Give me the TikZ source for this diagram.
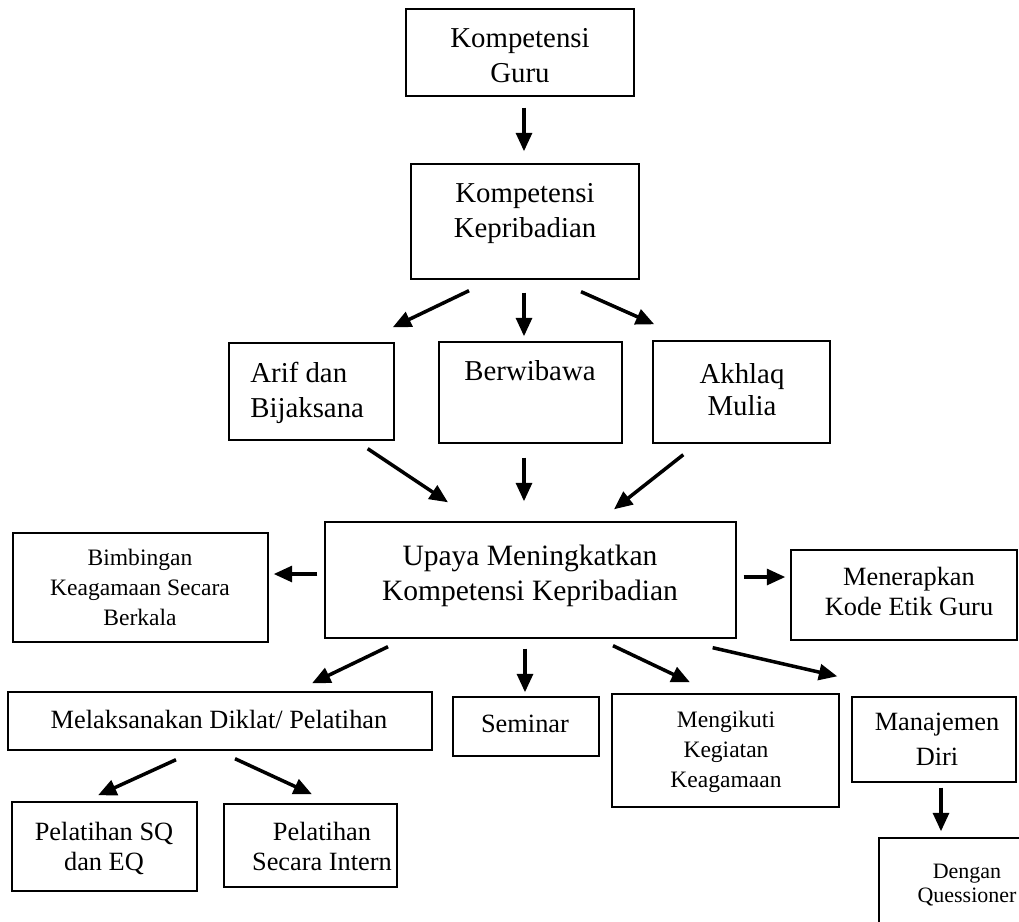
\documentclass[tikz,border=0pt]{standalone}
\usepackage{fontspec}
\setmainfont{Liberation Serif}
\usetikzlibrary{arrows.meta}

\begin{document}
\begin{tikzpicture}[x=0.02cm, y=-0.02cm,
        box/.style={draw, line width=0.8pt, inner sep=0pt},
        arr/.style={-{Triangle[length=10.5pt, width=9pt]}, line width=2pt},
        txt/.style={anchor=base, inner sep=0pt, align=center, font=\fontsize{16.4}{19.8}\selectfont},
        mid/.style={font=\fontsize{15}{17}\selectfont},
        small/.style={font=\fontsize{13.4}{17}\selectfont}]
        \useasboundingbox (0, 0) rectangle (1019, 921);

        % kotak
        \node[box, minimum width=4.56cm, minimum height=1.74cm] (guru) at (520, 52.5) {};
        \node[box, minimum width=4.56cm, minimum height=2.30cm] (kep) at (525, 221.5) {};
        \node[box, minimum width=3.30cm, minimum height=1.94cm] (arif) at (311.5, 391.5) {};
        \node[box, minimum width=3.66cm, minimum height=2.02cm] (wibawa) at (530.5, 392.5) {};
        \node[box, minimum width=3.54cm, minimum height=2.04cm] (akhlaq) at (741.5, 392) {};
        \node[box, minimum width=8.22cm, minimum height=2.32cm] (upaya) at (530.5, 580) {};
        \node[box, minimum width=5.10cm, minimum height=2.18cm] (bimb) at (140.5, 587.5) {};
        \node[box, minimum width=4.52cm, minimum height=1.80cm] (kode) at (904, 595) {};
        \node[box, minimum width=8.48cm, minimum height=1.16cm] (diklat) at (220, 721) {};
        \node[box, minimum width=2.92cm, minimum height=1.18cm] (seminar) at (526, 726.5) {};
        \node[box, minimum width=4.54cm, minimum height=2.26cm] (ikut) at (725.5, 750.5) {};
        \node[box, minimum width=3.28cm, minimum height=1.70cm] (diri) at (934, 739.5) {};
        \node[box, minimum width=3.70cm, minimum height=1.78cm] (sq) at (104.5, 846.5) {};
        \node[box, minimum width=3.46cm, minimum height=1.66cm] (intern) at (310.5, 845.5) {};
        \node[box, minimum width=3.82cm, minimum height=2.24cm] (quest) at (974.5, 894) {};

        % teks (y = garis dasar baris terakhir)
        \node[txt] (guru-t) at (520, 82) {Kompetensi\\Guru};
        \node[txt] (kep-t) at (525, 237) {Kompetensi\\Kepribadian};
        \node[txt, anchor=base west, align=left] (arif-t) at (250, 417) {Arif dan\\Bijaksana};
        \node[txt] (wibawa-t) at (530, 380) {Berwibawa};
        \node[txt, font=\fontsize{16.4}{18.2}\selectfont] (akhlaq-t) at (742, 415) {Akhlaq\\Mulia};
        \node[txt, font=\fontsize{16.8}{19.8}\selectfont] (upaya-t) at (530, 600) {Upaya Meningkatkan\\Kompetensi Kepribadian};
        \node[txt, small] (bimb-t) at (140, 625) {Bimbingan\\Keagamaan Secara\\Berkala};
        \node[txt, mid] (kode-t) at (909, 615) {Menerapkan\\Kode Etik Guru};
        \node[txt, mid] (diklat-t) at (219, 728) {Melaksanakan Diklat/ Pelatihan};
        \node[txt, mid] (seminar-t) at (525, 732) {Seminar};
        \node[txt, small] (ikut-t) at (726, 787) {Mengikuti\\Kegiatan\\Keagamaan};
        \node[txt, font=\fontsize{15}{19.8}\selectfont] (diri-t) at (937, 765) {Manajemen\\Diri};
        \node[txt, mid] (sq-t) at (104, 870) {Pelatihan SQ\\dan EQ};
        \node[txt, mid] (intern-t) at (322, 870) {Pelatihan\\Secara Intern};
        \node[txt, font=\fontsize{12.5}{13.6}\selectfont] (quest-t) at (967, 902) {Dengan\\Quessioner};

        % panah
        \draw[arr] ([shift={(4,11)}]guru.south) -- ([shift={(-1,-12)}]kep.north);
        \draw[arr] ([shift={(-56,11)}]kep.south) -- ([shift={(-2,-15)}]arif.north east);
        \draw[arr] ([shift={(-1,13)}]kep.south) -- ([shift={(-6.5,-5)}]wibawa.north);
        \draw[arr] ([shift={(56,12)}]kep.south) -- ([shift={(2,-16)}]akhlaq.north west);
        \draw[arr] ([shift={(-27,8)}]arif.south east) -- ([shift={(-82.5,-19)}]upaya.north);
        \draw[arr] ([shift={(-6.5,14)}]wibawa.south) -- ([shift={(-6.5,-20)}]upaya.north);
        \draw[arr] ([shift={(31,11)}]akhlaq.south west) -- ([shift={(83.5,-12)}]upaya.north);
        \draw[arr] ([shift={(-7,-6)}]upaya.west) -- ([shift={(5,-13.5)}]bimb.east);
        \draw[arr] ([shift={(7,-3)}]upaya.east) -- ([shift={(-5,-18)}]kode.west);
        \draw[arr] ([shift={(-142.5,8)}]upaya.south) -- ([shift={(92,-8)}]diklat.north);
        \draw[arr] ([shift={(-5.5,10)}]upaya.south) -- ([shift={(-1,-4)}]seminar.north);
        \draw[arr] ([shift={(82.5,7)}]upaya.south) -- ([shift={(-35.5,-11)}]ikut.north);
        \draw[arr] ([shift={(-24,9)}]upaya.south east) -- ([shift={(-14,-20)}]diri.north west);
        \draw[arr] ([shift={(-44,9)}]diklat.south) -- ([shift={(-6.5,-6)}]sq.north);
        \draw[arr] ([shift={(15,8)}]diklat.south) -- ([shift={(1.5,-9)}]intern.north);
        \draw[arr] ([shift={(7,5)}]diri.south) -- ([shift={(-33.5,-6)}]quest.north);

    \end{tikzpicture}
\end{document}
